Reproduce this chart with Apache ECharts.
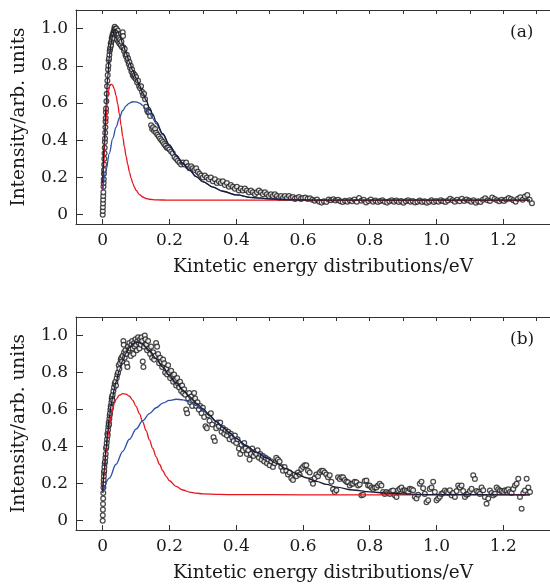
<!DOCTYPE html>
<html><head><meta charset="utf-8">
<script src="https://cdn.jsdelivr.net/npm/echarts@6/dist/echarts.min.js"></script>
<style>html,body{margin:0;padding:0;background:#fff}#c{width:550px;height:584px}</style>
</head><body><div id="c"></div>
<script>
// ---------- data ----------
const xTickValues = [0, 0.2, 0.4, 0.6, 0.8, 1.0, 1.2];
const xTopTickValues = [0, 0.1, 0.2, 0.3, 0.4, 0.5, 0.6, 0.7, 0.8, 0.9, 1.0, 1.1, 1.2, 1.3];
const yTickValues = [0, 0.2, 0.4, 0.6, 0.8, 1.0];
const panelLabels = ['(a)', '(b)'];
const xTitle = 'Kintetic energy distributions/eV';
const yTitle = 'Intensity/arb. units';

const measuredA = [[0,0.00],[0.0003,0.02],[0.0006,0.04],[0.001,0.06],[0.0013,0.08],[0.0016,0.10],[0.002,0.12],[0.0024,0.15],[0.0028,0.17],[0.0032,0.19],[0.0036,0.22],[0.004,0.24],[0.0045,0.27],[0.005,0.30],[0.0055,0.33],[0.006,0.36],[0.0065,0.39],[0.007,0.41],[0.0075,0.44],[0.008,0.47],[0.0085,0.50],[0.009,0.52],[0.0095,0.55],[0.010,0.57],[0.011,0.61],[0.012,0.65],[0.013,0.69],[0.014,0.72],[0.015,0.75],[0.016,0.78],[0.017,0.80],[0.018,0.83],[0.019,0.84],[0.020,0.86],[0.021,0.88],[0.022,0.89],[0.023,0.90],[0.024,0.92],[0.025,0.91],[0.026,0.93],[0.027,0.95],[0.028,0.94],[0.029,0.96],[0.030,0.97],[0.031,0.95],[0.032,0.98],[0.033,0.97],[0.034,0.99],[0.035,1.00],[0.036,1.01],[0.037,0.99],[0.038,1.00],[0.039,0.98],[0.040,0.97],[0.041,1.00],[0.042,0.96],[0.043,0.94],[0.044,0.97],[0.045,0.99],[0.046,0.96],[0.047,0.93],[0.048,0.97],[0.049,0.95],[0.050,0.92],[0.052,0.94],[0.054,0.91],[0.056,0.93],[0.058,0.90],[0.060,0.98],[0.061,0.96],[0.062,0.90],[0.064,0.88],[0.066,0.89],[0.068,0.86],[0.070,0.85],[0.072,0.86],[0.074,0.83],[0.076,0.84],[0.078,0.81],[0.080,0.82],[0.082,0.79],[0.084,0.80],[0.086,0.77],[0.088,0.78],[0.090,0.75],[0.092,0.76],[0.094,0.74],[0.096,0.75],[0.098,0.73],[0.100,0.74],[0.103,0.71],[0.106,0.72],[0.109,0.69],[0.112,0.68],[0.115,0.69],[0.118,0.66],[0.121,0.64],[0.124,0.65],[0.127,0.62],[0.130,0.58],[0.133,0.56],[0.136,0.55],[0.139,0.55],[0.142,0.53],[0.145,0.48],[0.148,0.46],[0.151,0.47],[0.154,0.45],[0.157,0.46],[0.160,0.44],[0.164,0.43],[0.168,0.42],[0.172,0.41],[0.176,0.40],[0.180,0.39],[0.184,0.38],[0.188,0.37],[0.192,0.36],[0.196,0.36],[0.200,0.35],[0.205,0.34],[0.210,0.33],[0.215,0.31],[0.220,0.30],[0.225,0.29],[0.230,0.28],[0.235,0.27],[0.240,0.28],[0.245,0.27],[0.250,0.28],[0.255,0.26],[0.260,0.25],[0.265,0.26],[0.270,0.25],[0.275,0.24],[0.280,0.25],[0.285,0.23],[0.290,0.22],[0.295,0.21],[0.300,0.20],[0.306,0.21],[0.312,0.20],[0.318,0.19],[0.324,0.20],[0.330,0.18],[0.336,0.19],[0.342,0.17],[0.348,0.18],[0.354,0.17],[0.360,0.18],[0.366,0.16],[0.372,0.17],[0.378,0.15],[0.384,0.16],[0.390,0.15],[0.396,0.14],[0.402,0.15],[0.408,0.13],[0.414,0.14],[0.420,0.13],[0.426,0.14],[0.432,0.13],[0.438,0.12],[0.444,0.13],[0.450,0.12],[0.456,0.11],[0.462,0.12],[0.468,0.13],[0.474,0.12],[0.480,0.11],[0.486,0.12],[0.492,0.11],[0.498,0.10],[0.504,0.11],[0.510,0.10],[0.516,0.11],[0.522,0.10],[0.528,0.09],[0.534,0.10],[0.540,0.09],[0.546,0.10],[0.552,0.09],[0.558,0.10],[0.564,0.09],[0.570,0.095],[0.576,0.085],[0.582,0.09],[0.588,0.095],[0.594,0.085],[0.600,0.09],[0.607,0.092],[0.614,0.085],[0.621,0.088],[0.628,0.08],[0.635,0.075],[0.642,0.082],[0.649,0.07],[0.656,0.065],[0.663,0.072],[0.670,0.068],[0.677,0.082],[0.684,0.078],[0.691,0.083],[0.698,0.076],[0.705,0.08],[0.712,0.072],[0.719,0.068],[0.726,0.075],[0.733,0.07],[0.740,0.078],[0.747,0.072],[0.754,0.082],[0.761,0.07],[0.768,0.09],[0.775,0.075],[0.782,0.08],[0.789,0.066],[0.796,0.074],[0.803,0.082],[0.810,0.07],[0.817,0.076],[0.824,0.068],[0.831,0.073],[0.838,0.078],[0.845,0.07],[0.852,0.065],[0.859,0.072],[0.866,0.078],[0.873,0.07],[0.880,0.076],[0.887,0.068],[0.894,0.074],[0.901,0.064],[0.908,0.072],[0.915,0.078],[0.922,0.07],[0.929,0.074],[0.936,0.066],[0.943,0.07],[0.950,0.076],[0.957,0.068],[0.964,0.072],[0.971,0.064],[0.978,0.07],[0.985,0.077],[0.992,0.068],[0.999,0.074],[1.006,0.07],[1.013,0.078],[1.020,0.072],[1.027,0.068],[1.034,0.076],[1.041,0.086],[1.048,0.078],[1.055,0.07],[1.062,0.08],[1.069,0.072],[1.076,0.086],[1.083,0.074],[1.090,0.082],[1.097,0.076],[1.104,0.07],[1.111,0.078],[1.118,0.064],[1.125,0.072],[1.132,0.068],[1.139,0.08],[1.146,0.088],[1.153,0.078],[1.160,0.074],[1.167,0.092],[1.174,0.084],[1.181,0.078],[1.188,0.072],[1.195,0.08],[1.202,0.074],[1.209,0.082],[1.216,0.09],[1.223,0.084],[1.230,0.078],[1.237,0.07],[1.244,0.086],[1.251,0.094],[1.258,0.08],[1.265,0.098],[1.272,0.106],[1.279,0.08],[1.286,0.062]];

const fitA = [[0,0.17],[0.005,0.40],[0.01,0.59],[0.015,0.74],[0.02,0.85],[0.025,0.92],[0.03,0.965],[0.035,0.99],[0.04,0.995],[0.045,0.985],[0.05,0.965],[0.06,0.92],[0.07,0.87],[0.08,0.82],[0.09,0.775],[0.10,0.735],[0.11,0.695],[0.12,0.655],[0.13,0.615],[0.14,0.575],[0.15,0.54],[0.16,0.50],[0.18,0.435],[0.20,0.375],[0.22,0.32],[0.24,0.275],[0.26,0.24],[0.28,0.205],[0.30,0.178],[0.33,0.148],[0.36,0.126],[0.40,0.106],[0.45,0.092],[0.50,0.085],[0.55,0.081],[0.60,0.079],[0.70,0.078],[0.80,0.078],[1.00,0.078],[1.28,0.078]];
const fastA = [[0,0.13],[0.003,0.25],[0.006,0.38],[0.009,0.48],[0.012,0.57],[0.015,0.63],[0.018,0.67],[0.021,0.69],[0.024,0.70],[0.027,0.70],[0.030,0.695],[0.035,0.675],[0.040,0.64],[0.045,0.595],[0.050,0.54],[0.055,0.48],[0.060,0.42],[0.065,0.365],[0.070,0.315],[0.075,0.27],[0.080,0.23],[0.085,0.197],[0.090,0.17],[0.095,0.148],[0.100,0.131],[0.110,0.108],[0.120,0.095],[0.130,0.087],[0.140,0.083],[0.160,0.080],[0.200,0.078],[0.400,0.078],[0.800,0.078],[1.280,0.078]];
const slowA = [[0,0.13],[0.01,0.24],[0.02,0.33],[0.03,0.41],[0.04,0.47],[0.05,0.52],[0.06,0.56],[0.07,0.585],[0.08,0.60],[0.09,0.607],[0.10,0.606],[0.11,0.60],[0.12,0.587],[0.13,0.568],[0.14,0.545],[0.15,0.518],[0.16,0.49],[0.18,0.43],[0.20,0.372],[0.22,0.32],[0.24,0.275],[0.26,0.24],[0.28,0.205],[0.30,0.178],[0.33,0.148],[0.36,0.126],[0.40,0.106],[0.45,0.092],[0.50,0.085],[0.55,0.081],[0.60,0.079]];

const measuredB = [[0,0.00],[0.0003,0.03],[0.0006,0.06],[0.001,0.09],[0.0014,0.12],[0.0018,0.15],[0.0022,0.18],[0.0026,0.20],[0.003,0.22],[0.0035,0.24],[0.004,0.26],[0.0045,0.27],[0.005,0.29],[0.006,0.31],[0.007,0.32],[0.008,0.34],[0.009,0.36],[0.010,0.39],[0.011,0.40],[0.012,0.42],[0.013,0.44],[0.014,0.47],[0.015,0.46],[0.016,0.49],[0.017,0.51],[0.018,0.53],[0.019,0.52],[0.020,0.55],[0.021,0.57],[0.022,0.58],[0.023,0.60],[0.024,0.62],[0.025,0.61],[0.026,0.64],[0.027,0.66],[0.028,0.67],[0.029,0.65],[0.030,0.68],[0.032,0.70],[0.034,0.72],[0.036,0.74],[0.038,0.75],[0.040,0.73],[0.042,0.77],[0.044,0.79],[0.046,0.80],[0.048,0.84],[0.050,0.82],[0.052,0.85],[0.054,0.87],[0.056,0.88],[0.058,0.86],[0.060,0.89],[0.062,0.97],[0.063,0.95],[0.064,0.91],[0.066,0.88],[0.068,0.92],[0.070,0.90],[0.072,0.85],[0.074,0.83],[0.076,0.94],[0.078,0.92],[0.080,0.96],[0.082,0.93],[0.084,0.89],[0.086,0.95],[0.088,0.97],[0.090,0.93],[0.092,0.90],[0.094,0.96],[0.096,0.94],[0.098,0.98],[0.100,0.95],[0.102,0.92],[0.104,0.97],[0.106,0.99],[0.108,0.96],[0.110,0.93],[0.112,0.98],[0.114,0.95],[0.116,0.99],[0.118,0.97],[0.120,0.86],[0.122,0.83],[0.124,0.94],[0.126,1.00],[0.128,0.98],[0.130,0.95],[0.133,0.92],[0.136,0.97],[0.139,0.93],[0.142,0.90],[0.145,0.94],[0.148,0.88],[0.151,0.91],[0.154,0.87],[0.157,0.89],[0.160,0.96],[0.163,0.94],[0.166,0.90],[0.169,0.85],[0.172,0.88],[0.175,0.86],[0.178,0.83],[0.181,0.87],[0.184,0.85],[0.187,0.80],[0.190,0.82],[0.193,0.79],[0.196,0.84],[0.199,0.80],[0.202,0.77],[0.205,0.81],[0.208,0.78],[0.211,0.75],[0.214,0.79],[0.217,0.76],[0.220,0.73],[0.223,0.77],[0.226,0.74],[0.229,0.72],[0.232,0.75],[0.235,0.70],[0.238,0.73],[0.241,0.69],[0.244,0.71],[0.247,0.68],[0.250,0.60],[0.253,0.58],[0.256,0.66],[0.259,0.69],[0.262,0.64],[0.265,0.67],[0.268,0.62],[0.271,0.65],[0.274,0.69],[0.277,0.66],[0.280,0.62],[0.284,0.64],[0.288,0.60],[0.292,0.62],[0.296,0.58],[0.300,0.61],[0.304,0.56],[0.308,0.51],[0.312,0.50],[0.316,0.57],[0.320,0.54],[0.324,0.58],[0.328,0.52],[0.332,0.45],[0.336,0.43],[0.340,0.50],[0.344,0.53],[0.348,0.51],[0.352,0.53],[0.356,0.48],[0.360,0.50],[0.364,0.47],[0.368,0.49],[0.372,0.46],[0.376,0.48],[0.380,0.44],[0.384,0.47],[0.388,0.45],[0.392,0.43],[0.396,0.46],[0.400,0.42],[0.404,0.44],[0.408,0.39],[0.412,0.36],[0.416,0.41],[0.420,0.38],[0.424,0.42],[0.428,0.39],[0.432,0.36],[0.436,0.38],[0.440,0.33],[0.444,0.36],[0.448,0.39],[0.452,0.35],[0.456,0.37],[0.460,0.36],[0.464,0.38],[0.468,0.34],[0.472,0.36],[0.476,0.33],[0.480,0.35],[0.484,0.32],[0.488,0.34],[0.492,0.31],[0.496,0.33],[0.500,0.30],[0.505,0.32],[0.510,0.29],[0.515,0.31],[0.520,0.34],[0.525,0.33],[0.530,0.32],[0.535,0.29],[0.540,0.27],[0.545,0.29],[0.550,0.27],[0.555,0.25],[0.560,0.26],[0.565,0.23],[0.570,0.22],[0.575,0.25],[0.580,0.24],[0.585,0.26],[0.590,0.25],[0.595,0.28],[0.600,0.29],[0.605,0.30],[0.610,0.30],[0.615,0.27],[0.620,0.26],[0.625,0.22],[0.630,0.20],[0.635,0.23],[0.640,0.25],[0.645,0.24],[0.650,0.26],[0.655,0.27],[0.660,0.27],[0.665,0.26],[0.670,0.25],[0.675,0.235],[0.680,0.245],[0.685,0.21],[0.690,0.17],[0.695,0.155],[0.700,0.165],[0.705,0.235],[0.710,0.226],[0.715,0.235],[0.720,0.235],[0.725,0.22],[0.730,0.21],[0.735,0.208],[0.740,0.19],[0.745,0.2],[0.750,0.2],[0.755,0.21],[0.760,0.208],[0.765,0.19],[0.770,0.195],[0.775,0.137],[0.780,0.14],[0.785,0.215],[0.790,0.217],[0.795,0.19],[0.800,0.19],[0.805,0.18],[0.810,0.172],[0.815,0.18],[0.820,0.18],[0.825,0.19],[0.830,0.20],[0.835,0.19],[0.840,0.155],[0.845,0.145],[0.850,0.155],[0.855,0.15],[0.860,0.145],[0.865,0.16],[0.870,0.163],[0.875,0.137],[0.880,0.128],[0.885,0.165],[0.890,0.172],[0.895,0.18],[0.900,0.163],[0.905,0.165],[0.910,0.16],[0.915,0.155],[0.920,0.172],[0.925,0.17],[0.930,0.165],[0.935,0.13],[0.940,0.12],[0.945,0.14],[0.950,0.2],[0.955,0.21],[0.960,0.175],[0.965,0.145],[0.970,0.1],[0.975,0.11],[0.980,0.172],[0.985,0.18],[0.990,0.21],[0.995,0.155],[1.000,0.11],[1.005,0.12],[1.010,0.13],[1.015,0.145],[1.020,0.15],[1.025,0.163],[1.030,0.155],[1.035,0.15],[1.040,0.165],[1.045,0.137],[1.050,0.15],[1.055,0.128],[1.060,0.16],[1.065,0.19],[1.070,0.18],[1.075,0.19],[1.080,0.16],[1.085,0.128],[1.090,0.14],[1.095,0.145],[1.100,0.16],[1.105,0.172],[1.110,0.245],[1.115,0.225],[1.120,0.16],[1.125,0.155],[1.130,0.145],[1.135,0.18],[1.140,0.165],[1.145,0.128],[1.150,0.092],[1.155,0.12],[1.160,0.163],[1.165,0.15],[1.170,0.137],[1.175,0.145],[1.180,0.18],[1.185,0.17],[1.190,0.163],[1.195,0.16],[1.200,0.155],[1.205,0.165],[1.210,0.163],[1.215,0.17],[1.220,0.155],[1.225,0.15],[1.230,0.172],[1.235,0.19],[1.240,0.2],[1.245,0.227],[1.250,0.128],[1.255,0.065],[1.260,0.15],[1.265,0.163],[1.270,0.227],[1.275,0.18],[1.280,0.155]];

const fitB = [[0,0.16],[0.005,0.28],[0.01,0.39],[0.015,0.48],[0.02,0.56],[0.025,0.62],[0.03,0.67],[0.035,0.715],[0.04,0.75],[0.05,0.815],[0.06,0.865],[0.07,0.905],[0.08,0.935],[0.09,0.955],[0.10,0.963],[0.11,0.962],[0.12,0.952],[0.14,0.92],[0.16,0.875],[0.18,0.83],[0.20,0.785],[0.22,0.745],[0.24,0.705],[0.26,0.67],[0.28,0.635],[0.30,0.605],[0.32,0.57],[0.34,0.535],[0.36,0.505],[0.38,0.475],[0.40,0.445],[0.43,0.405],[0.46,0.37],[0.49,0.34],[0.52,0.31],[0.55,0.28],[0.58,0.255],[0.61,0.232],[0.64,0.212],[0.67,0.196],[0.70,0.182],[0.75,0.166],[0.80,0.156],[0.85,0.149],[0.90,0.145],[0.95,0.142],[1.00,0.141],[1.28,0.140]];
const fastB = [[0,0.15],[0.005,0.27],[0.01,0.37],[0.015,0.45],[0.02,0.515],[0.025,0.565],[0.03,0.605],[0.035,0.635],[0.04,0.655],[0.05,0.678],[0.06,0.686],[0.07,0.684],[0.08,0.672],[0.09,0.65],[0.10,0.617],[0.11,0.578],[0.12,0.533],[0.13,0.486],[0.14,0.437],[0.15,0.39],[0.16,0.345],[0.17,0.305],[0.18,0.27],[0.19,0.24],[0.20,0.216],[0.22,0.185],[0.24,0.166],[0.26,0.155],[0.28,0.149],[0.30,0.145],[0.35,0.142],[0.40,0.141],[0.60,0.140],[1.00,0.140],[1.28,0.140]];
const slowB = [[0,0.15],[0.02,0.23],[0.04,0.305],[0.06,0.375],[0.08,0.44],[0.10,0.495],[0.12,0.54],[0.14,0.578],[0.16,0.61],[0.18,0.635],[0.20,0.65],[0.22,0.656],[0.24,0.653],[0.26,0.642],[0.28,0.622],[0.30,0.598],[0.32,0.568],[0.34,0.536],[0.36,0.503],[0.38,0.472],[0.40,0.443],[0.43,0.404],[0.46,0.369],[0.50,0.33]];

// ---------- chart ----------
const FONT = 'DejaVu Serif';
const TXT = '#1a1a1a';
const AX = '#333';
const gridTops = [10, 317];
const grids = gridTops.map(t => ({left: 76, right: 0, top: t, height: 214, containLabel: false}));

const xAxes = [], yAxes = [];
[0, 1].forEach(g => {
  xAxes.push({
    type: 'value', gridIndex: g, position: 'bottom', min: -0.08, max: 1.34,
    axisLine: {show: true, onZero: false, lineStyle: {color: AX, width: 1}},
    axisTick: {show: true, inside: true, length: 5, customValues: xTickValues, lineStyle: {color: AX}},
    axisLabel: {show: true, customValues: xTickValues, margin: 8, fontFamily: FONT, fontSize: 17, color: TXT,
      formatter: v => (Math.abs(v) < 1e-9 ? '0' : v.toFixed(1))},
    splitLine: {show: false},
    name: xTitle, nameLocation: 'middle', nameGap: 34,
    nameTextStyle: {fontFamily: FONT, fontSize: 18.5, color: TXT, padding: [0, 0, 0, 20]}
  });
  xAxes.push({
    type: 'value', gridIndex: g, position: 'top', min: -0.08, max: 1.34,
    axisLine: {show: true, onZero: false, lineStyle: {color: AX, width: 1}},
    axisTick: {show: true, inside: true, length: 4, customValues: xTopTickValues, lineStyle: {color: AX}},
    axisLabel: {show: false}, splitLine: {show: false}
  });
  yAxes.push({
    type: 'value', gridIndex: g, position: 'left', min: -0.05, max: 1.1,
    axisLine: {show: true, onZero: false, lineStyle: {color: AX, width: 1}},
    axisTick: {show: true, inside: true, length: 7, customValues: yTickValues, lineStyle: {color: AX}},
    axisLabel: {show: true, customValues: yTickValues, margin: 8, fontFamily: FONT, fontSize: 17, color: TXT,
      formatter: v => (Math.abs(v) < 1e-9 ? '0' : v.toFixed(1))},
    splitLine: {show: false},
    name: yTitle, nameLocation: 'middle', nameGap: 47, nameRotate: 90,
    nameTextStyle: {fontFamily: FONT, fontSize: 18.5, color: TXT}
  });
});

function lineSeries(data, g, color, z) {
  return {type: 'line', data: data, xAxisIndex: g * 2, yAxisIndex: g, showSymbol: false, symbol: 'none',
    smooth: 0.35, smoothMonotone: 'x', lineStyle: {color: color, width: 1.3}, z: z, silent: true};
}
function scatterSeries(data, g) {
  return {type: 'scatter', data: data, xAxisIndex: g * 2, yAxisIndex: g, symbol: 'circle', symbolSize: 4.8,
    itemStyle: {color: '#ffffff', borderColor: '#1e1e1e', borderWidth: 1.25}, z: 2, silent: true};
}

const RED = '#e8141c', BLUE = '#2a4fa6', BLACK = '#1c1c34';
const series = [
  scatterSeries(measuredA, 0),
  lineSeries(fastA, 0, RED, 3), lineSeries(slowA, 0, BLUE, 3), lineSeries(fitA, 0, BLACK, 4),
  scatterSeries(measuredB, 1),
  lineSeries(fastB, 1, RED, 3), lineSeries(slowB, 1, BLUE, 3), lineSeries(fitB, 1, BLACK, 4)
];

const chart = echarts.init(document.getElementById('c'), null, {renderer: 'canvas'});
chart.setOption({
  animation: false,
  backgroundColor: '#ffffff',
  grid: grids, xAxis: xAxes, yAxis: yAxes, series: series,
  graphic: panelLabels.map((t, i) => ({type: 'text', left: 510, top: gridTops[i] + 14,
    style: {text: t, font: '17px "' + FONT + '"', fill: TXT}}))
});
</script></body></html>
